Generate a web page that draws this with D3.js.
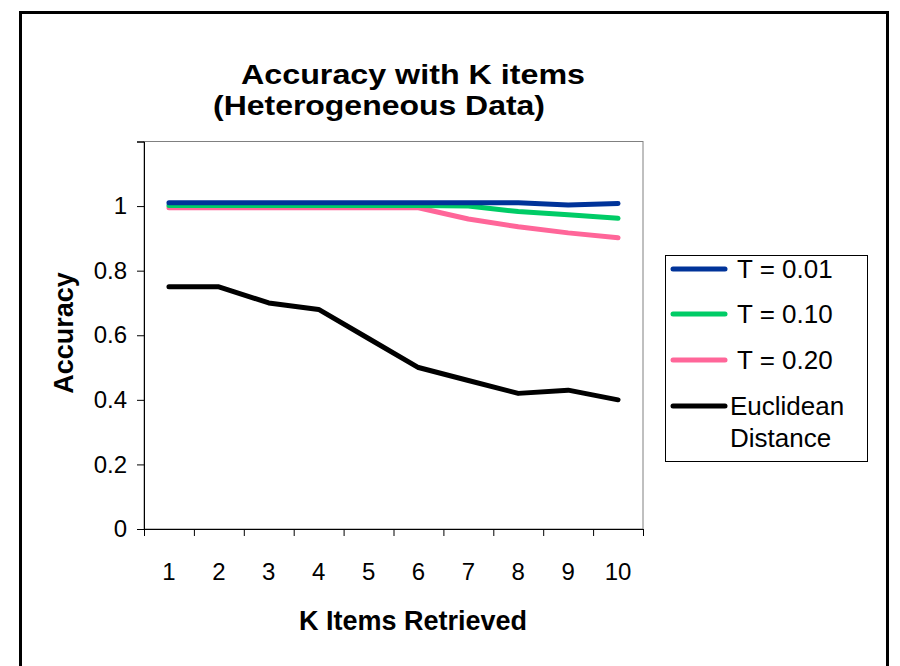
<!DOCTYPE html>
<html>
<head>
<meta charset="utf-8">
<script src="https://cdn.jsdelivr.net/npm/d3@7"></script>
<style>
  html, body { margin: 0; padding: 0; background: #fff; }
  svg { display: block; font-family: "Liberation Sans", Arial, sans-serif; }
</style>
</head>
<body>
<svg id="chart" width="900" height="666"></svg>
<script>
// Chart data
const categories = ["1", "2", "3", "4", "5", "6", "7", "8", "9", "10"];
const seriesNames = ["T = 0.01", "T = 0.10", "T = 0.20", "Euclidean Distance"];
const t001 = [1.01, 1.01, 1.01, 1.01, 1.01, 1.01, 1.01, 1.01, 1.003, 1.008];
const t010 = [1.002, 1.002, 1.002, 1.002, 1.002, 1.002, 1.0, 0.983, 0.973, 0.962];
const t020 = [0.995, 0.995, 0.995, 0.995, 0.995, 0.995, 0.96, 0.936, 0.917, 0.902];
const euclidean = [0.75, 0.75, 0.70, 0.68, 0.59, 0.50, 0.46, 0.42, 0.43, 0.40];
const yTicks = [0, 0.2, 0.4, 0.6, 0.8, 1.0, 1.2];
const titleLines = ["Accuracy with K items", "(Heterogeneous Data)"];
const colors = ["#003399", "#00CC66", "#FF6699", "#000000"];

const allSeries = [t001, t010, t020, euclidean];

const svg = d3.select("#chart");

// Outer chart frame
svg.append("rect")
  .attr("x", 20.5).attr("y", 12.5)
  .attr("width", 867).attr("height", 700)
  .attr("fill", "none").attr("stroke", "#000").attr("stroke-width", 3);

// Plot area
const plot = { left: 144, right: 643, top: 141.5, bottom: 529 };

const x = d3.scaleBand().domain(categories).range([plot.left, plot.right]).padding(0);
const xEdge = d3.scaleLinear().domain([0, categories.length]).range([plot.left, plot.right]);
const y = d3.scaleLinear().domain([0, 1.2]).range([plot.bottom, plot.top]);

// Plot area border
svg.append("rect")
  .attr("x", plot.left).attr("y", plot.top)
  .attr("width", plot.right - plot.left).attr("height", plot.bottom - plot.top)
  .attr("fill", "none").attr("stroke", "#808080").attr("stroke-width", 1);

// Title (two lines)
const titleLayout = [
  { x: 413, y: 84, len: 344 },
  { x: 379, y: 115, len: 332 }
];
svg.append("g").selectAll("text")
  .data(titleLines)
  .join("text")
  .attr("x", (d, i) => titleLayout[i].x)
  .attr("y", (d, i) => titleLayout[i].y)
  .attr("text-anchor", "middle")
  .attr("font-weight", "bold")
  .attr("font-size", 28)
  .attr("textLength", (d, i) => titleLayout[i].len)
  .attr("lengthAdjust", "spacingAndGlyphs")
  .attr("fill", "#000")
  .text(d => d);

// Y axis
const yAxis = d3.axisLeft(y)
  .tickValues(yTicks)
  .tickSize(7)
  .tickPadding(10)
  .tickFormat(d => d === 1.2 ? "" : d3.format("~g")(d));
const gy = svg.append("g").attr("transform", `translate(${plot.left},0)`).call(yAxis);
gy.select(".domain").attr("stroke", "#000");
gy.selectAll(".tick line").attr("stroke", "#000");
gy.selectAll(".tick text").attr("font-size", 24).attr("fill", "#000")
  .attr("font-family", "Liberation Sans, Arial, sans-serif");

// X axis: tick marks on category boundaries, labels at category centres
const gxTicks = svg.append("g").attr("transform", `translate(0,${plot.bottom})`)
  .call(d3.axisBottom(xEdge).ticks(categories.length).tickSize(7).tickFormat(""));
gxTicks.select(".domain").attr("stroke", "#000");
gxTicks.selectAll(".tick line").attr("stroke", "#000");

const gxLabels = svg.append("g").attr("transform", `translate(0,${plot.bottom})`)
  .call(d3.axisBottom(x).tickSize(0).tickPadding(34));
gxLabels.select(".domain").remove();
gxLabels.selectAll(".tick text").attr("font-size", 24).attr("fill", "#000")
  .attr("font-family", "Liberation Sans, Arial, sans-serif");

// Axis titles
svg.append("text")
  .attr("x", 413).attr("y", 630)
  .attr("text-anchor", "middle")
  .attr("font-weight", "bold").attr("font-size", 27)
  .text("K Items Retrieved");

svg.append("text")
  .attr("transform", "translate(73,333) rotate(-90)")
  .attr("text-anchor", "middle")
  .attr("font-weight", "bold").attr("font-size", 27)
  .text("Accuracy");

// Series lines
const line = d3.line()
  .x((d, i) => x(categories[i]) + x.bandwidth() / 2)
  .y(d => y(d));

svg.append("g").selectAll("path")
  .data(allSeries.map((values, i) => ({ values, color: colors[i] })).reverse())
  .join("path")
  .attr("d", d => line(d.values))
  .attr("fill", "none")
  .attr("stroke", d => d.color)
  .attr("stroke-width", 5)
  .attr("stroke-linecap", "round")
  .attr("stroke-linejoin", "round");

// Legend
const legend = svg.append("g");
legend.append("rect")
  .attr("x", 665.5).attr("y", 255.5)
  .attr("width", 202).attr("height", 206)
  .attr("fill", "#fff").attr("stroke", "#000").attr("stroke-width", 1);

const legendY = [269, 314, 360, 406];
seriesNames.forEach((name, i) => {
  legend.append("line")
    .attr("x1", 673).attr("x2", 725)
    .attr("y1", legendY[i]).attr("y2", legendY[i])
    .attr("stroke", colors[i]).attr("stroke-width", 5)
    .attr("stroke-linecap", "round");
  const t = legend.append("text")
    .attr("font-size", 26).attr("fill", "#000");
  if (i < 3) {
    t.attr("x", 737).attr("y", legendY[i] + 9).text(name);
  } else {
    const parts = name.split(" ");
    t.append("tspan").attr("x", 730).attr("y", legendY[i] + 9).text(parts[0]);
    t.append("tspan").attr("x", 730).attr("y", legendY[i] + 41).text(parts[1]);
  }
});
</script>
</body>
</html>
